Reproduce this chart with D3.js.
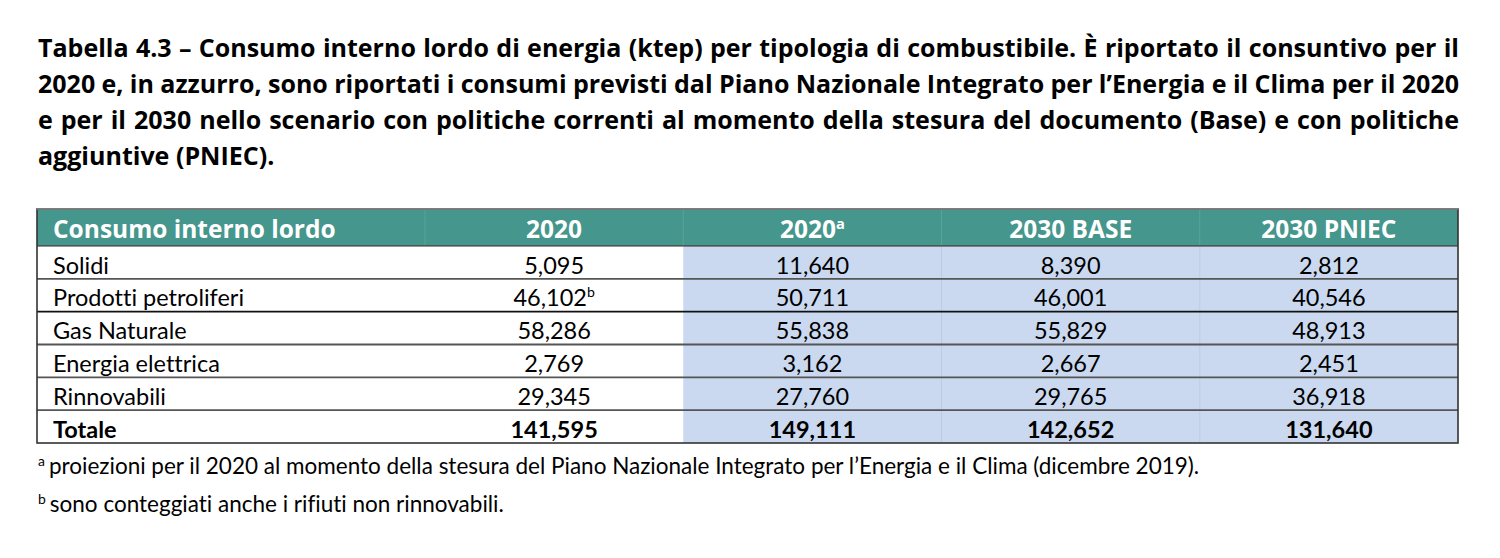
<!DOCTYPE html>
<html>
<head>
<meta charset="utf-8">
<script src="https://cdn.jsdelivr.net/npm/d3@7"></script>
<style>
  body { margin: 0; background: #fff; }
  svg { display: block; }
  text { font-variant-ligatures: none; font-feature-settings: "liga" 0, "clig" 0; }
</style>
</head>
<body>
<svg id="table" width="1500" height="558"></svg>
<script>
// data
const titleLines = [
  "Tabella 4.3 – Consumo interno lordo di energia (ktep) per tipologia di combustibile. È riportato il consuntivo per il",
  "2020 e, in azzurro, sono riportati i consumi previsti dal Piano Nazionale Integrato per l’Energia e il Clima per il 2020",
  "e per il 2030 nello scenario con politiche correnti al momento della stesura del documento (Base) e con politiche",
  "aggiuntive (PNIEC)."
];
const headerLabel = "Consumo interno lordo";
const columns = ["2020", "2020a", "2030 BASE", "2030 PNIEC"];
const columnLabels = [["2020", ""], ["2020", "a"], ["2030 BASE", ""], ["2030 PNIEC", ""]];
const categories = ["Solidi", "Prodotti petroliferi", "Gas Naturale", "Energia elettrica", "Rinnovabili"];
const values2020 = [5095, 46102, 58286, 2769, 29345];
const values2020Pniec = [11640, 50711, 55838, 3162, 27760];
const values2030Base = [8390, 46001, 55829, 2667, 29765];
const values2030Pniec = [2812, 40546, 48913, 2451, 36918];
const totalLabel = "Totale";
const totals = [141595, 149111, 142652, 131640];
const footnotes = [
  ["a", "proiezioni per il 2020 al momento della stesura del Piano Nazionale Integrato per l’Energia e il Clima (dicembre 2019)."],
  ["b", "sono conteggiati anche i rifiuti non rinnovabili."]
];
// superscript note on the 2020 value of "Prodotti petroliferi"
const cellNotes = { "Prodotti petroliferi|2020": "b" };

const seriesByColumn = [values2020, values2020Pniec, values2030Base, values2030Pniec];

const svg = d3.select("#table");
const bodyFont = "Lato, 'Open Sans', sans-serif";
const boldFont = "'Open Sans', Lato, sans-serif";
const fmt = d3.format(",");

const left = 37, right = 1458;
const labelColRight = 425;
const headerTop = 209, headerBottom = 246, tableBottom = 443;
const teal = "#45968c";
const blue = "#cad9ef";

// --- title, justified to the table width
const measure = svg.append("text")
  .attr("font-family", boldFont).attr("font-weight", 700).attr("font-size", 20);
measure.text(titleLines[0]);
const natural = measure.node().getComputedTextLength();
const titleSize = 20 * (right - left) / natural * 0.99;
measure.attr("font-size", titleSize);

const titleG = svg.append("g");
titleLines.forEach((line, i) => {
  const words = line.split(" ");
  const widths = words.map(w => { measure.text(w); return measure.node().getComputedTextLength(); });
  measure.text("a b"); const ab = measure.node().getComputedTextLength();
  measure.text("ab"); const space = ab - measure.node().getComputedTextLength();
  const total = d3.sum(widths);
  const last = i === titleLines.length - 1;
  const gap = last ? space : (right - left - total) / (words.length - 1);
  const t = titleG.append("text")
    .attr("y", 57 + i * 36)
    .attr("font-family", boldFont).attr("font-weight", 700).attr("font-size", titleSize)
    .attr("fill", "#000");
  let x = left + 1;
  words.forEach((w, j) => {
    t.append("tspan").attr("x", x).text(w);
    x += widths[j] + gap;
  });
});
measure.remove();

// --- scales
const x = d3.scaleBand().domain(columns).range([labelColRight, right]);
const rows = categories.concat([totalLabel]);
const y = d3.scaleBand().domain(rows).range([headerBottom, tableBottom]);

const g = svg.append("g");

// header background
g.append("rect")
  .attr("x", left).attr("y", headerTop)
  .attr("width", right - left).attr("height", headerBottom - headerTop)
  .attr("fill", teal);

// blue projected columns
g.selectAll("rect.proj")
  .data(columns.slice(1))
  .enter().append("rect")
  .attr("class", "proj")
  .attr("x", d => x(d)).attr("y", headerBottom)
  .attr("width", x.bandwidth()).attr("height", tableBottom - headerBottom)
  .attr("fill", blue);

// faint column separators in header
g.selectAll("line.hsep")
  .data(columns)
  .enter().append("line")
  .attr("x1", d => x(d)).attr("x2", d => x(d))
  .attr("y1", headerTop).attr("y2", headerBottom)
  .attr("stroke", "#ffffff").attr("stroke-opacity", 0.12).attr("stroke-width", 1);

// faint separators inside blue area
g.selectAll("line.bsep")
  .data(columns.slice(2))
  .enter().append("line")
  .attr("x1", d => x(d)).attr("x2", d => x(d))
  .attr("y1", headerBottom).attr("y2", tableBottom)
  .attr("stroke", "#bccbe2").attr("stroke-width", 1);

// header text
const headerSize = 24.5;
g.append("text")
  .attr("x", 53).attr("y", 237.5)
  .attr("font-family", boldFont).attr("font-weight", 700).attr("font-size", headerSize)
  .attr("fill", "#fff")
  .text(headerLabel);

const headText = g.selectAll("text.col")
  .data(columnLabels)
  .enter().append("text")
  .attr("class", "col")
  .attr("x", (d, i) => x(columns[i]) + x.bandwidth() / 2)
  .attr("y", 237.5)
  .attr("text-anchor", "middle")
  .attr("font-family", boldFont).attr("font-weight", 700).attr("font-size", headerSize)
  .attr("fill", "#fff");
headText.append("tspan").text(d => d[0]);
headText.append("tspan")
  .attr("font-size", headerSize * 0.6).attr("dy", -9)
  .text(d => d[1]);

// body rows
const bodySize = 23.5;
const rowData = rows.map((r, i) => ({
  label: r,
  total: r === totalLabel,
  values: r === totalLabel ? totals : seriesByColumn.map(s => s[i])
}));

const rowG = g.selectAll("g.row")
  .data(rowData)
  .enter().append("g")
  .attr("class", "row")
  .attr("transform", d => `translate(0,${y(d.label)})`);

rowG.append("text")
  .attr("x", 53).attr("y", 27.5)
  .attr("font-family", bodyFont).attr("font-size", bodySize)
  .attr("font-weight", d => d.total ? 700 : 400)
  .attr("fill", "#000")
  .text(d => d.label);

const cell = rowG.selectAll("text.val")
  .data(d => d.values.map((v, i) => ({ v, col: columns[i], row: d.label, total: d.total })))
  .enter().append("text")
  .attr("class", "val")
  .attr("x", d => x(d.col) + x.bandwidth() / 2)
  .attr("y", 27.5)
  .attr("text-anchor", "middle")
  .attr("font-family", bodyFont).attr("font-size", bodySize)
  .attr("font-weight", d => d.total ? 700 : 400)
  .attr("fill", "#000");
cell.append("tspan").text(d => fmt(d.v));
cell.append("tspan")
  .attr("font-size", bodySize * 0.6).attr("dy", -9)
  .text(d => cellNotes[d.row + "|" + d.col] || "");

// horizontal rules between rows
g.selectAll("line.rule")
  .data(rows.slice(1))
  .enter().append("line")
  .attr("class", "rule")
  .attr("x1", left).attr("x2", right)
  .attr("y1", d => y(d)).attr("y2", d => y(d))
  .attr("stroke", d => d === "Gas Naturale" ? "#111" : "#555")
  .attr("stroke-width", 1.8);

// header bottom rule
g.append("line")
  .attr("x1", left).attr("x2", right)
  .attr("y1", headerBottom).attr("y2", headerBottom)
  .attr("stroke", "#3a2222").attr("stroke-width", 1.2);

// outer border
g.append("rect")
  .attr("x", left).attr("y", headerTop)
  .attr("width", right - left).attr("height", tableBottom - headerTop)
  .attr("fill", "none").attr("stroke", "#333").attr("stroke-width", 1.6);
g.append("line")
  .attr("x1", left).attr("x2", right)
  .attr("y1", headerTop).attr("y2", headerTop)
  .attr("stroke", "#888").attr("stroke-width", 1.6);

// footnotes
const noteSize = 22.5;
const notes = svg.selectAll("text.note")
  .data(footnotes)
  .enter().append("text")
  .attr("class", "note")
  .attr("x", 38)
  .attr("y", (d, i) => 474 + i * 38)
  .attr("font-family", bodyFont).attr("font-size", noteSize)
  .attr("fill", "#000");
notes.append("tspan")
  .attr("font-size", noteSize * 0.62).attr("dy", -8)
  .text(d => d[0]);
notes.append("tspan")
  .attr("dy", 8).attr("dx", 4)
  .text(d => d[1]);
</script>
</body>
</html>
